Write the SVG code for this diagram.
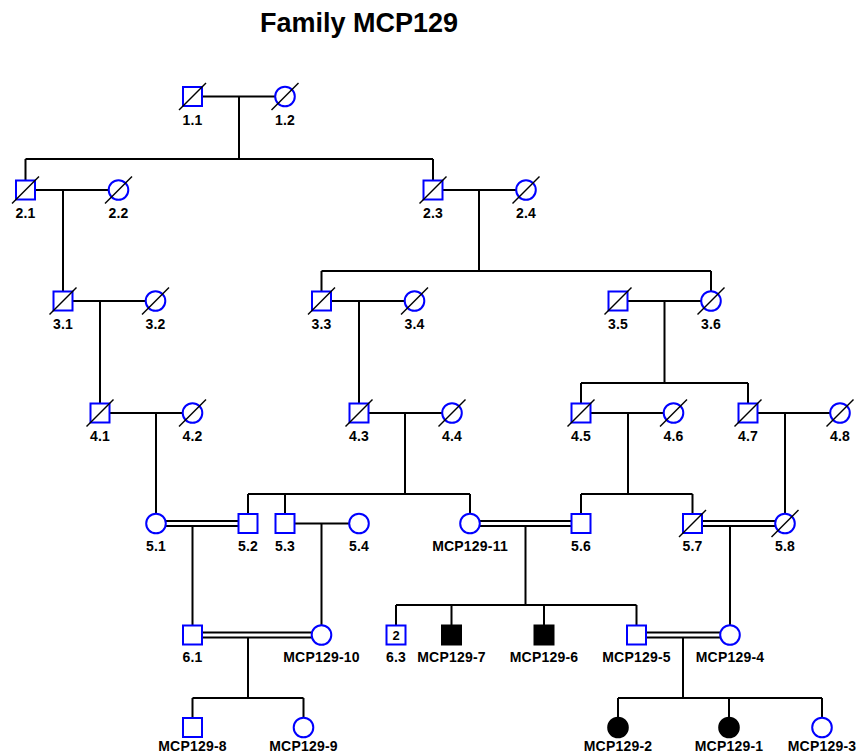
<svg xmlns="http://www.w3.org/2000/svg" xmlns:xlink="http://www.w3.org/1999/xlink" width="857" height="755" viewBox="0 0 857 755">
<style>
.sym{fill:#fff;stroke:#0000ff;stroke-width:2}
.aff{fill:#000;stroke:#000;stroke-width:2}
.dec{stroke:#000;stroke-width:1.5}
.ln{stroke:#000;stroke-width:2;fill:none}
.lbl{font-family:"Liberation Sans",Arial,sans-serif;font-weight:bold;font-size:14px;text-anchor:middle;fill:#000;letter-spacing:0.2px}
.num{font-family:"Liberation Sans",Arial,sans-serif;font-weight:bold;font-size:13px;text-anchor:middle;fill:#000}
.title{font-family:"Liberation Sans",Arial,sans-serif;font-weight:bold;font-size:27px;text-anchor:middle;fill:#000}
</style>
<defs>
<rect id="sq" x="-9.5" y="-9.5" width="19" height="19"/>
<circle id="ci" r="9.8"/>
<line id="sl" x1="-13.5" y1="13.5" x2="13.5" y2="-13.5"/>
</defs>
<rect width="857" height="755" fill="#fff"/>
<text class="title" x="359" y="32">Family MCP129</text>
<g id="connectors" class="ln">
<path d="M192.5 96.5H285M239 96.5V159M25.5 159H433M25.5 159V190M433 159V190"/>
<path d="M25.5 190H118.5M63 190V301M433 190H526M479 190V271M321.5 271H711M321.5 271V301M711 271V301"/>
<path d="M63 301H155.5M100 301V413M321.5 301H414.5M359 301V413M618 301H711M664.5 301V383M581 383H748M581 383V413M748 383V413"/>
<path d="M100 413H192.5M156 413V523.5M359 413H452M405 413V494M248 494H470M248 494V523.5M285 494V523.5M470 494V523.5M581 413H673.5M628 413V494M581 494H692.5M581 494V523.5M692.5 494V523.5M748 413H840M785 413V523.5"/>
<path d="M156 521H248M156 526H248M192.5 526V635M285 523.5H359M321.5 523.5V635M470 521H581M470 526H581M525.5 526V605M396 605H636.5M396 605V635M451.5 605V635M544 605V635M636.5 605V635M692.5 521H785M692.5 526H785M730 526V635"/>
<path d="M192.5 632.5H321.5M192.5 637.5H321.5M248 637.5V698M192.5 698H303.5M192.5 698V727.5M303.5 698V727.5M636.5 632.5H730M636.5 637.5H730M683 637.5V698M618 698H822M618 698V727.5M729 698V727.5M822 698V727.5"/>
</g>
<g id="n1_1" transform="translate(192.5 96.5)"><use href="#sq" class="sym"/><use href="#sl" class="dec"/><text class="lbl" y="28.5">1.1</text></g>
<g id="n1_2" transform="translate(285 96.5)"><use href="#ci" class="sym"/><use href="#sl" class="dec"/><text class="lbl" y="28.5">1.2</text></g>
<g id="n2_1" transform="translate(25.5 190)"><use href="#sq" class="sym"/><use href="#sl" class="dec"/><text class="lbl" y="28">2.1</text></g>
<g id="n2_2" transform="translate(118.5 190)"><use href="#ci" class="sym"/><use href="#sl" class="dec"/><text class="lbl" y="28">2.2</text></g>
<g id="n2_3" transform="translate(433 190)"><use href="#sq" class="sym"/><use href="#sl" class="dec"/><text class="lbl" y="28">2.3</text></g>
<g id="n2_4" transform="translate(526 190)"><use href="#ci" class="sym"/><use href="#sl" class="dec"/><text class="lbl" y="28">2.4</text></g>
<g id="n3_1" transform="translate(63 301)"><use href="#sq" class="sym"/><use href="#sl" class="dec"/><text class="lbl" y="28">3.1</text></g>
<g id="n3_2" transform="translate(155.5 301)"><use href="#ci" class="sym"/><use href="#sl" class="dec"/><text class="lbl" y="28">3.2</text></g>
<g id="n3_3" transform="translate(321.5 301)"><use href="#sq" class="sym"/><use href="#sl" class="dec"/><text class="lbl" y="28">3.3</text></g>
<g id="n3_4" transform="translate(414.5 301)"><use href="#ci" class="sym"/><use href="#sl" class="dec"/><text class="lbl" y="28">3.4</text></g>
<g id="n3_5" transform="translate(618 301)"><use href="#sq" class="sym"/><use href="#sl" class="dec"/><text class="lbl" y="28">3.5</text></g>
<g id="n3_6" transform="translate(711 301)"><use href="#ci" class="sym"/><use href="#sl" class="dec"/><text class="lbl" y="28">3.6</text></g>
<g id="n4_1" transform="translate(100 413)"><use href="#sq" class="sym"/><use href="#sl" class="dec"/><text class="lbl" y="28">4.1</text></g>
<g id="n4_2" transform="translate(192.5 413)"><use href="#ci" class="sym"/><use href="#sl" class="dec"/><text class="lbl" y="28">4.2</text></g>
<g id="n4_3" transform="translate(359 413)"><use href="#sq" class="sym"/><use href="#sl" class="dec"/><text class="lbl" y="28">4.3</text></g>
<g id="n4_4" transform="translate(452 413)"><use href="#ci" class="sym"/><use href="#sl" class="dec"/><text class="lbl" y="28">4.4</text></g>
<g id="n4_5" transform="translate(581 413)"><use href="#sq" class="sym"/><use href="#sl" class="dec"/><text class="lbl" y="28">4.5</text></g>
<g id="n4_6" transform="translate(673.5 413)"><use href="#ci" class="sym"/><use href="#sl" class="dec"/><text class="lbl" y="28">4.6</text></g>
<g id="n4_7" transform="translate(748 413)"><use href="#sq" class="sym"/><use href="#sl" class="dec"/><text class="lbl" y="28">4.7</text></g>
<g id="n4_8" transform="translate(840 413)"><use href="#ci" class="sym"/><use href="#sl" class="dec"/><text class="lbl" y="28">4.8</text></g>
<g id="n5_1" transform="translate(156 523.5)"><use href="#ci" class="sym"/><text class="lbl" y="27">5.1</text></g>
<g id="n5_2" transform="translate(248 523.5)"><use href="#sq" class="sym"/><text class="lbl" y="27">5.2</text></g>
<g id="n5_3" transform="translate(285 523.5)"><use href="#sq" class="sym"/><text class="lbl" y="27">5.3</text></g>
<g id="n5_4" transform="translate(359 523.5)"><use href="#ci" class="sym"/><text class="lbl" y="27">5.4</text></g>
<g id="mcp129_11" transform="translate(470 523.5)"><use href="#ci" class="sym"/><text class="lbl" y="27">MCP129-11</text></g>
<g id="n5_6" transform="translate(581 523.5)"><use href="#sq" class="sym"/><text class="lbl" y="27">5.6</text></g>
<g id="n5_7" transform="translate(692.5 523.5)"><use href="#sq" class="sym"/><use href="#sl" class="dec"/><text class="lbl" y="27">5.7</text></g>
<g id="n5_8" transform="translate(785 523.5)"><use href="#ci" class="sym"/><use href="#sl" class="dec"/><text class="lbl" y="27">5.8</text></g>
<g id="n6_1" transform="translate(192.5 635)"><use href="#sq" class="sym"/><text class="lbl" y="27">6.1</text></g>
<g id="mcp129_10" transform="translate(321.5 635)"><use href="#ci" class="sym"/><text class="lbl" y="27">MCP129-10</text></g>
<g id="n6_3" transform="translate(396 635)"><use href="#sq" class="sym"/><text class="num" y="4.8">2</text><text class="lbl" y="27">6.3</text></g>
<g id="mcp129_7" transform="translate(451.5 635)"><use href="#sq" class="aff"/><text class="lbl" y="27">MCP129-7</text></g>
<g id="mcp129_6" transform="translate(544 635)"><use href="#sq" class="aff"/><text class="lbl" y="27">MCP129-6</text></g>
<g id="mcp129_5" transform="translate(636.5 635)"><use href="#sq" class="sym"/><text class="lbl" y="27">MCP129-5</text></g>
<g id="mcp129_4" transform="translate(730 635)"><use href="#ci" class="sym"/><text class="lbl" y="27">MCP129-4</text></g>
<g id="mcp129_8" transform="translate(192.5 727.5)"><use href="#sq" class="sym"/><text class="lbl" y="23.5">MCP129-8</text></g>
<g id="mcp129_9" transform="translate(303.5 727.5)"><use href="#ci" class="sym"/><text class="lbl" y="23.5">MCP129-9</text></g>
<g id="mcp129_2" transform="translate(618 727.5)"><use href="#ci" class="aff"/><text class="lbl" y="23.5">MCP129-2</text></g>
<g id="mcp129_1" transform="translate(729 727.5)"><use href="#ci" class="aff"/><text class="lbl" y="23.5">MCP129-1</text></g>
<g id="mcp129_3" transform="translate(822 727.5)"><use href="#ci" class="sym"/><text class="lbl" y="23.5">MCP129-3</text></g>
</svg>
